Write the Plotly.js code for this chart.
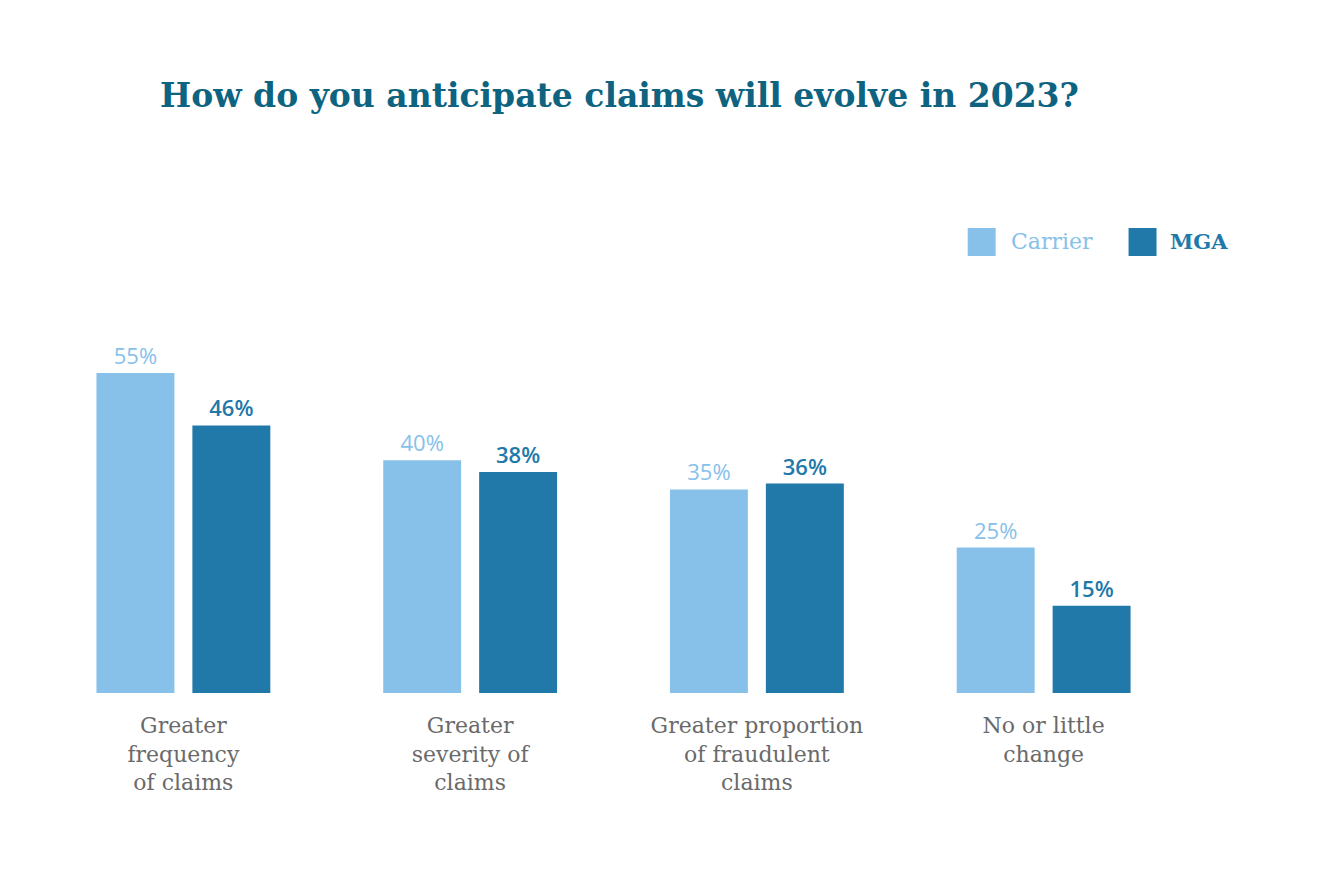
<!DOCTYPE html>
<html>
<head>
<meta charset="utf-8">
<script src="https://cdn.plot.ly/plotly-3.0.1.min.js"></script>
<style>html,body{margin:0;padding:0;background:#fff;}#chart{width:1336px;height:896px;}</style>
</head>
<body>
<div id="chart"></div>
<script>
const categories = ["Greater<br>frequency<br>of claims", "Greater<br>severity of<br>claims", "Greater proportion<br>of fraudulent<br>claims", "No or little<br>change"];
const carrier = [55, 40, 35, 25];
const mga = [46, 38, 36, 15];
const seriesNames = ["Carrier", "MGA"];
const titleText = "How do you anticipate claims will evolve in 2023?";

const cLight = "#87C1EA";
const cDark = "#2179A9";
const xIdx = categories.map((c, i) => i);

const traces = [
  {
    type: "bar", name: seriesNames[0], x: xIdx, y: carrier,
    width: 0.2718, offset: -0.3031,
    marker: {color: cLight},
    text: carrier.map(v => v + "%"), textposition: "outside", cliponaxis: false,
    textfont: {family: "Open Sans", size: 22, color: cLight, weight: 500},
    hoverinfo: "skip"
  },
  {
    type: "bar", name: seriesNames[1], x: xIdx, y: mga,
    width: 0.2718, offset: 0.0314,
    marker: {color: cDark},
    text: mga.map(v => v + "%"), textposition: "outside", cliponaxis: false,
    textfont: {family: "Open Sans", size: 22, color: cDark, weight: 600},
    hoverinfo: "skip"
  }
];

const layout = {
  width: 1336, height: 896,
  paper_bgcolor: "#fff", plot_bgcolor: "#fff",
  showlegend: false,
  margin: {l: 39.5, r: 148.5, t: 344, b: 203, pad: 0},
  title: {
    text: titleText, xref: "container", x: 160/1336, xanchor: "left",
    yref: "container", y: 1 - 95/896, yanchor: "middle",
    font: {family: "DejaVu Serif", size: 33, color: "#0E6381", weight: 700}
  },
  xaxis: {
    range: [-0.5, 3.5], tickmode: "array", tickvals: xIdx, ticktext: categories,
    showgrid: false, zeroline: false, showline: false, ticks: "",
    ticklabelstandoff: 17,
    tickfont: {family: "DejaVu Serif", size: 22, color: "#6A6A6A", weight: 300}
  },
  yaxis: {range: [0, 60], visible: false, showgrid: false, zeroline: false},
  shapes: [
    {type: "rect", xref: "paper", yref: "paper", x0: (968-39.5)/1148, x1: (996-39.5)/1148, y0: (693-228)/349, y1: (693-256)/349, fillcolor: cLight, line: {width: 0}},
    {type: "rect", xref: "paper", yref: "paper", x0: (1129-39.5)/1148, x1: (1157-39.5)/1148, y0: (693-228)/349, y1: (693-256)/349, fillcolor: cDark, line: {width: 0}}
  ],
  annotations: [
    {text: seriesNames[0], xref: "paper", yref: "paper", x: (1009-39.5)/1148, y: (693-242)/349, xanchor: "left", yanchor: "middle", showarrow: false,
     font: {family: "DejaVu Serif", size: 22, color: cLight}},
    {text: seriesNames[1], xref: "paper", yref: "paper", x: (1168-39.5)/1148, y: (693-242)/349, xanchor: "left", yanchor: "middle", showarrow: false,
     font: {family: "DejaVu Serif", size: 21, color: cDark, weight: 700}}
  ]
};

Plotly.newPlot("chart", traces, layout, {displayModeBar: false, staticPlot: true});
</script>
</body>
</html>
